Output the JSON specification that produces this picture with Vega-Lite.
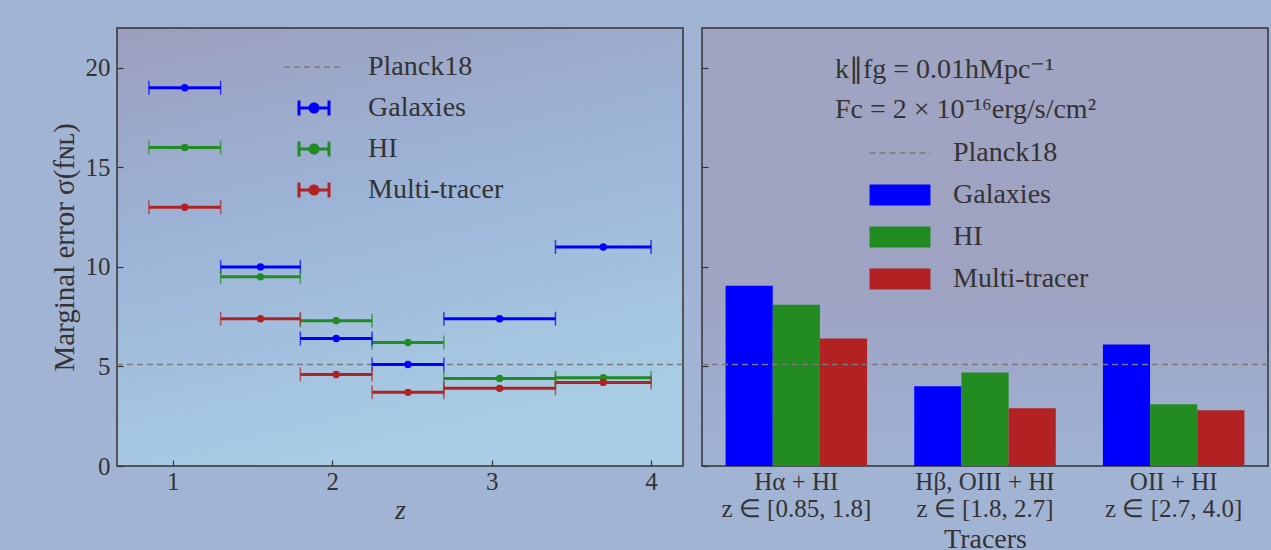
{
  "$schema": "https://vega.github.io/schema/vega-lite/v6.json",
  "background": "#a2b4d4",
  "padding": {"left": 49, "top": 27, "right": 4, "bottom": 0},
  "config": {
    "font": "Liberation Serif",
    "view": {"stroke": "#333333", "strokeWidth": 1.5},
    "axis": {
      "labelFont": "Liberation Serif", "titleFont": "Liberation Serif",
      "labelColor": "#333333", "titleColor": "#333333", "tickColor": "#333333",
      "domain": false, "grid": false, "labelFontSize": 25, "titleFontSize": 28,
      "titleFontWeight": "normal", "tickSize": -6, "tickWidth": 1.2
    },
    "legend": {
      "labelFont": "Liberation Serif", "labelFontSize": 28, "labelColor": "#333333",
      "titleFont": "Liberation Serif", "titleFontSize": 28, "titleColor": "#333333",
      "titleFontWeight": "normal", "padding": 0, "labelLimit": 0, "titleLimit": 0
    }
  },
  "datasets": {
    "err": [
      {"tracer": "Galaxies", "zmin": 0.85, "zmax": 1.3, "zmid": 1.075, "sigma": 19},
      {"tracer": "Galaxies", "zmin": 1.3, "zmax": 1.8, "zmid": 1.55, "sigma": 10},
      {"tracer": "Galaxies", "zmin": 1.8, "zmax": 2.25, "zmid": 2.025, "sigma": 6.4},
      {"tracer": "Galaxies", "zmin": 2.25, "zmax": 2.7, "zmid": 2.475, "sigma": 5.1},
      {"tracer": "Galaxies", "zmin": 2.7, "zmax": 3.4, "zmid": 3.05, "sigma": 7.4},
      {"tracer": "Galaxies", "zmin": 3.4, "zmax": 4.0, "zmid": 3.7, "sigma": 11},
      {"tracer": "HI", "zmin": 0.85, "zmax": 1.3, "zmid": 1.075, "sigma": 16},
      {"tracer": "HI", "zmin": 1.3, "zmax": 1.8, "zmid": 1.55, "sigma": 9.5},
      {"tracer": "HI", "zmin": 1.8, "zmax": 2.25, "zmid": 2.025, "sigma": 7.3},
      {"tracer": "HI", "zmin": 2.25, "zmax": 2.7, "zmid": 2.475, "sigma": 6.2},
      {"tracer": "HI", "zmin": 2.7, "zmax": 3.4, "zmid": 3.05, "sigma": 4.4},
      {"tracer": "HI", "zmin": 3.4, "zmax": 4.0, "zmid": 3.7, "sigma": 4.43},
      {"tracer": "Multi-tracer", "zmin": 0.85, "zmax": 1.3, "zmid": 1.075, "sigma": 13},
      {"tracer": "Multi-tracer", "zmin": 1.3, "zmax": 1.8, "zmid": 1.55, "sigma": 7.4},
      {"tracer": "Multi-tracer", "zmin": 1.8, "zmax": 2.25, "zmid": 2.025, "sigma": 4.6},
      {"tracer": "Multi-tracer", "zmin": 2.25, "zmax": 2.7, "zmid": 2.475, "sigma": 3.7},
      {"tracer": "Multi-tracer", "zmin": 2.7, "zmax": 3.4, "zmid": 3.05, "sigma": 3.9},
      {"tracer": "Multi-tracer", "zmin": 3.4, "zmax": 4.0, "zmid": 3.7, "sigma": 4.2}
    ],
    "bars": [
      {"group": "Hα + HI|z ∈ [0.85, 1.8]", "tracer": "Galaxies", "sigma": 9.05},
      {"group": "Hα + HI|z ∈ [0.85, 1.8]", "tracer": "HI", "sigma": 8.1},
      {"group": "Hα + HI|z ∈ [0.85, 1.8]", "tracer": "Multi-tracer", "sigma": 6.4},
      {"group": "Hβ, OIII + HI|z ∈ [1.8, 2.7]", "tracer": "Galaxies", "sigma": 4.0},
      {"group": "Hβ, OIII + HI|z ∈ [1.8, 2.7]", "tracer": "HI", "sigma": 4.7},
      {"group": "Hβ, OIII + HI|z ∈ [1.8, 2.7]", "tracer": "Multi-tracer", "sigma": 2.9},
      {"group": "OII + HI|z ∈ [2.7, 4.0]", "tracer": "Galaxies", "sigma": 6.1},
      {"group": "OII + HI|z ∈ [2.7, 4.0]", "tracer": "HI", "sigma": 3.1},
      {"group": "OII + HI|z ∈ [2.7, 4.0]", "tracer": "Multi-tracer", "sigma": 2.8}
    ]
  },
  "spacing": 15,
  "resolve": {"scale": {"color": "independent"}, "legend": {"color": "independent"}},
  "hconcat": [
    {
      "width": 566, "height": 438,
      "view": {"fill": {"gradient": "linear", "x1": 0, "y1": 0, "x2": 0.3, "y2": 1,
        "stops": [{"offset": 0, "color": "#9c9fbd"}, {"offset": 0.45, "color": "#9cb3d6"}, {"offset": 1, "color": "#a8cce4"}]}},
      "layer": [
        {
          "data": {"values": [{}]},
          "mark": {"type": "rule", "strokeDash": [6, 4], "strokeWidth": 1.5},
          "encoding": {
            "y": {"datum": 5.1, "type": "quantitative", "scale": {"domain": [0, 22], "nice": false}},
            "color": {"datum": "Planck18", "type": "nominal"}
          }
        },
        {
          "data": {"name": "err"},
          "mark": {"type": "rule", "strokeWidth": 3},
          "encoding": {
            "x": {"field": "zmin", "type": "quantitative",
              "scale": {"domain": [0.65, 4.2], "nice": false, "zero": false},
              "axis": {"values": [1, 2, 3, 4], "format": "d", "title": "z", "titleFontStyle": "italic", "labelPadding": 9, "titlePadding": 2}},
            "x2": {"field": "zmax"},
            "y": {"field": "sigma", "type": "quantitative",
              "scale": {"domain": [0, 22], "nice": false},
              "axis": {"values": [0, 5, 10, 15, 20], "title": "Marginal error σ(fɴʟ)", "titleFontSize": 29, "labelPadding": 13, "titlePadding": 6}},
            "color": {"field": "tracer", "type": "nominal",
              "scale": {"domain": ["Planck18", "Galaxies", "HI", "Multi-tracer"], "range": ["#7a7a7a", "#0000ff", "#228b22", "#b22222"]},
              "legend": {
                "title": null, "orient": "none", "legendX": 183, "legendY": 25,
                "symbolSize": 900, "labelOffset": 40, "rowPadding": 13,
                "encode": {"symbols": {"update": {
                  "shape": {"signal": "datum.value === 'Planck18' ? 'M-2,0H2' : 'M-1,-0.5V0.5M-1,0H1M1,-0.5V0.5M-0.27,0A0.27,0.27 0 1,0 0.27,0A0.27,0.27 0 1,0 -0.27,0Z'"},
                  "fill": {"signal": "datum.value === 'Planck18' ? 'transparent' : (datum.value === 'Galaxies' ? '#0000ff' : (datum.value === 'HI' ? '#228b22' : '#b22222'))"},
                  "stroke": {"signal": "datum.value === 'Planck18' ? '#7a7a7a' : (datum.value === 'Galaxies' ? '#0000ff' : (datum.value === 'HI' ? '#228b22' : '#b22222'))"},
                  "strokeDash": {"signal": "datum.value === 'Planck18' ? [6, 4] : [1, 0]"},
                  "strokeWidth": {"signal": "datum.value === 'Planck18' ? 1.5 : 3"},
                  "opacity": {"value": 1}
                }}}
              }}
          }
        },
        {
          "data": {"name": "err"},
          "mark": {"type": "tick", "orient": "vertical", "size": 14, "thickness": 1.5, "opacity": 0.7},
          "encoding": {
            "x": {"field": "zmin", "type": "quantitative"},
            "y": {"field": "sigma", "type": "quantitative"},
            "color": {"field": "tracer", "type": "nominal"}
          }
        },
        {
          "data": {"name": "err"},
          "mark": {"type": "tick", "orient": "vertical", "size": 14, "thickness": 1.5, "opacity": 0.7},
          "encoding": {
            "x": {"field": "zmax", "type": "quantitative"},
            "y": {"field": "sigma", "type": "quantitative"},
            "color": {"field": "tracer", "type": "nominal"}
          }
        },
        {
          "data": {"name": "err"},
          "mark": {"type": "point", "filled": true, "size": 55, "opacity": 1},
          "encoding": {
            "x": {"field": "zmid", "type": "quantitative"},
            "y": {"field": "sigma", "type": "quantitative"},
            "color": {"field": "tracer", "type": "nominal"}
          }
        }
      ]
    },
    {
      "width": 566, "height": 438,
      "view": {"fill": {"gradient": "linear", "x1": 0, "y1": 0, "x2": 0, "y2": 1,
        "stops": [{"offset": 0, "color": "#a0a4c2"}, {"offset": 0.6, "color": "#9ea3c2"}, {"offset": 1, "color": "#9fb2d4"}]}},
      "layer": [
        {
          "data": {"name": "bars"},
          "mark": {"type": "bar"},
          "encoding": {
            "x": {"field": "group", "type": "nominal", "sort": null,
              "scale": {"paddingInner": 0.25, "paddingOuter": 0.125},
              "axis": {"title": "Tracers", "labelAngle": 0, "ticks": false, "labelFontSize": 25, "labelLineHeight": 27,
                "labelExpr": "split(datum.label, '|')", "labelPadding": 3, "titlePadding": 4}},
            "xOffset": {"field": "tracer", "type": "nominal", "sort": ["Galaxies", "HI", "Multi-tracer"],
              "scale": {"paddingInner": 0, "paddingOuter": 0}},
            "y": {"field": "sigma", "type": "quantitative",
              "scale": {"domain": [0, 22], "nice": false},
              "axis": {"values": [0, 5, 10, 15, 20], "labels": false, "title": null}},
            "color": {"field": "tracer", "type": "nominal",
              "scale": {"domain": ["Planck18", "Galaxies", "HI", "Multi-tracer"], "range": ["#7a7a7a", "#0000ff", "#228b22", "#b22222"]},
              "legend": {
                "title": ["k∥fg = 0.01hMpc⁻¹", "Fc = 2 × 10⁻¹⁶erg/s/cm²"],
                "titleLineHeight": 40, "titlePadding": 15, "titleAnchor": "start",
                "orient": "none", "legendX": 133, "legendY": 28,
                "symbolSize": 441, "symbolOffset": 51, "labelOffset": 39, "rowPadding": 14,
                "encode": {"symbols": {"update": {
                  "shape": {"signal": "datum.value === 'Planck18' ? 'M-2.9,0H2.9' : 'M-2.9,-1H2.9V1H-2.9Z'"},
                  "fill": {"signal": "datum.value === 'Planck18' ? 'transparent' : (datum.value === 'Galaxies' ? '#0000ff' : (datum.value === 'HI' ? '#228b22' : '#b22222'))"},
                  "stroke": {"signal": "datum.value === 'Planck18' ? '#7a7a7a' : 'transparent'"},
                  "strokeDash": {"signal": "datum.value === 'Planck18' ? [6, 4] : [1, 0]"},
                  "strokeWidth": {"signal": "datum.value === 'Planck18' ? 1.5 : 0"},
                  "opacity": {"value": 1}
                }}}
              }}
          }
        },
        {
          "data": {"values": [{}]},
          "mark": {"type": "rule", "strokeDash": [6, 4], "strokeWidth": 1.5},
          "encoding": {
            "y": {"datum": 5.1, "type": "quantitative"},
            "color": {"datum": "Planck18", "type": "nominal"}
          }
        }
      ]
    }
  ]
}
